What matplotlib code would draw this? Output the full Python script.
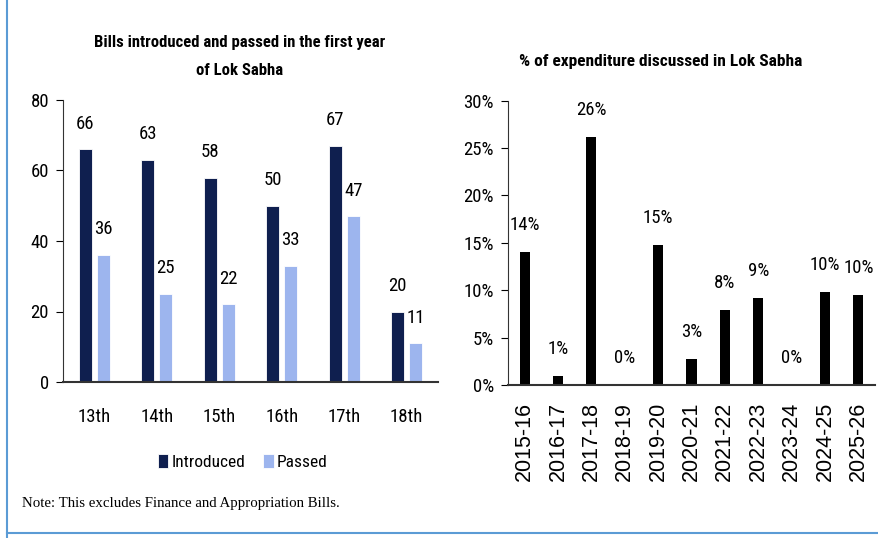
import matplotlib
matplotlib.use('Agg')
import matplotlib.pyplot as plt
from matplotlib.lines import Line2D
import numpy as np

# left chart data
sessions = ['13th', '14th', '15th', '16th', '17th', '18th']
introduced = [66, 63, 58, 50, 67, 20]
passed = [36, 25, 22, 33, 47, 11]

# right chart data
years = ['2015-16', '2016-17', '2017-18', '2018-19', '2019-20', '2020-21',
         '2021-22', '2022-23', '2023-24', '2024-25', '2025-26']
exp_pct = [14.05, 0.95, 26.2, 0.0, 14.75, 2.75, 7.9, 9.2, 0.0, 9.8, 9.5]
exp_labels = ['14%', '1%', '26%', '0%', '15%', '3%', '8%', '9%', '0%', '10%', '10%']

NARROW = ['Liberation Sans Narrow', 'Arial Narrow', 'Roboto Condensed',
          'Open Sans Condensed', 'Liberation Sans']
FS = 13.5
navy = '#0f1f4f'
light = '#9db5ee'
frame_col = '#5b9bd5'

fig = plt.figure(figsize=(8.79, 5.38), dpi=100)

# ---- left: bills ----
ax1 = fig.add_axes([63/879, 1-382/538, 375/879, 282/538])
x = np.arange(len(sessions))
w = 0.21
off = 0.145
b1 = ax1.bar(x - off, introduced, w, color=navy, edgecolor='white', linewidth=0.6, label='Introduced')
b2 = ax1.bar(x + off, passed, w, color=light, edgecolor='white', linewidth=0.6, label='Passed')
for bars, vals in [(b1, introduced), (b2, passed)]:
    for r, v in zip(bars, vals):
        ax1.annotate(str(v), (r.get_x() + r.get_width()/2, r.get_height()),
                     xytext=(0, 12), textcoords='offset points', ha='center', va='bottom',
                     family=NARROW, fontsize=FS)
ax1.set_xlim(-0.5, 5.5)
ax1.set_ylim(0, 80)
ax1.set_yticks([0, 20, 40, 60, 80])
ax1.set_xticks(x)
ax1.set_xticklabels(sessions)
ax1.spines['top'].set_visible(False)
ax1.spines['right'].set_visible(False)
ax1.spines['bottom'].set_linewidth(1.5)
ax1.spines['bottom'].set_color('#333333')
ax1.spines['left'].set_color('#333333')
ax1.tick_params(axis='x', length=0, pad=19)
ax1.tick_params(axis='y', length=5, pad=5)
for t in ax1.get_xticklabels() + ax1.get_yticklabels():
    t.set_family(NARROW)
    t.set_fontsize(FS)
ax1.set_title('Bills introduced and passed in the first year\nof Lok Sabha', x=0.472,
              family=NARROW, fontsize=12, fontweight='bold', pad=18, linespacing=2.1)
leg = ax1.legend(loc='upper center', bbox_to_anchor=(0.48, -0.2), ncol=2, frameon=False,
                 prop={'family': NARROW, 'size': 12.5}, handlelength=0.6, handleheight=0.9,
                 handletextpad=0.2, columnspacing=1.0)

# ---- right: expenditure ----
ax2 = fig.add_axes([508/879, 1-385/538, 367/879, 284.3/538])
x2 = np.arange(len(years))
bars = ax2.bar(x2, exp_pct, 0.3, color='black')
for r, lab in zip(bars, exp_labels):
    ax2.annotate(lab, (r.get_x() + r.get_width()/2, r.get_height()),
                 xytext=(0, 13), textcoords='offset points', ha='center', va='bottom',
                 family=NARROW, fontsize=FS)
ax2.set_xlim(-0.5, 10.5)
ax2.set_ylim(0, 30)
ax2.set_yticks(range(0, 31, 5))
ax2.set_yticklabels([f'{v}%' for v in range(0, 31, 5)])
ax2.set_xticks(x2)
ax2.set_xticklabels(years, rotation=90)
ax2.spines['top'].set_visible(False)
ax2.spines['right'].set_visible(False)
ax2.spines['bottom'].set_linewidth(1.5)
ax2.spines['bottom'].set_color('#333333')
ax2.spines['left'].set_color('#333333')
ax2.tick_params(axis='x', length=0, pad=12)
ax2.tick_params(axis='y', length=5, pad=5)
for t in ax2.get_yticklabels():
    t.set_family(NARROW)
    t.set_fontsize(FS)
for t in ax2.get_xticklabels():
    t.set_family(['Liberation Sans', 'DejaVu Sans'])
    t.set_fontsize(15.5)
ax2.set_title('% of expenditure discussed in Lok Sabha', x=0.417,
              family=NARROW, fontsize=12.5, fontweight='bold', pad=25)

# note and frame
fig.text(22/879, 1-503/538, 'Note: This excludes Finance and Appropriation Bills.',
         family=['Liberation Serif', 'DejaVu Serif'], fontsize=10.7, va='center', ha='left')
fig.add_artist(Line2D([7/879, 7/879], [0, 1], transform=fig.transFigure,
                      color=frame_col, lw=1.5))
fig.add_artist(Line2D([7/879, 1], [1-533/538, 1-533/538], transform=fig.transFigure,
                      color=frame_col, lw=1.5))

fig.savefig('out.png', dpi=100)
